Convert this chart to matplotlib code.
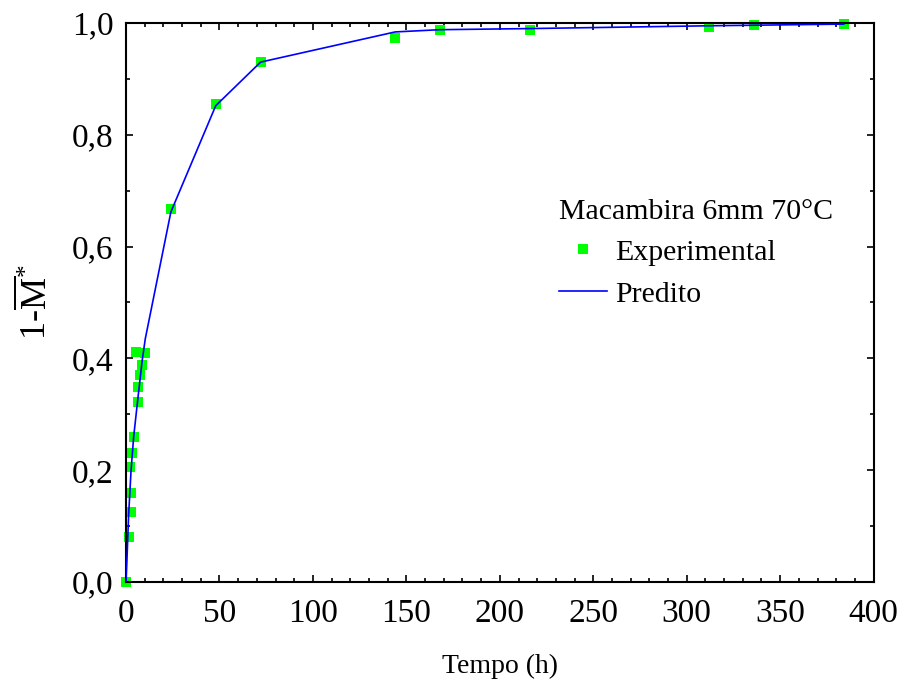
import matplotlib
matplotlib.use("Agg")
import matplotlib.pyplot as plt
from matplotlib.ticker import MultipleLocator, FuncFormatter

plt.rcParams['font.family'] = ['Liberation Serif', 'DejaVu Serif']
plt.rcParams['mathtext.fontset'] = 'custom'
plt.rcParams['mathtext.rm'] = 'Liberation Serif'
plt.rcParams['mathtext.it'] = 'Liberation Serif:italic'

# experimental points (time in h, 1 - M*)
t_exp = [0, 1.4, 2.3, 2.7, 2.8, 3.4, 4.4, 5.3, 6.6, 6.6, 7.3, 8.6, 10,
         24, 48, 72, 144, 168, 216, 312, 336, 384]
y_exp = [0.0, 0.08, 0.205, 0.126, 0.159, 0.23, 0.259, 0.412, 0.322, 0.348,
         0.37, 0.388, 0.409, 0.667, 0.855, 0.93, 0.974, 0.988, 0.988,
         0.993, 0.996, 0.998]

# predicted curve
t_pred = [0, 0.5, 1.4, 2.7, 4.1, 5.9, 8.6, 10.3, 24, 48, 72, 144, 168,
          216, 312, 336, 384]
y_pred = [0.0, 0.04, 0.12, 0.2, 0.26, 0.315, 0.395, 0.435, 0.662, 0.852,
          0.93, 0.984, 0.988, 0.99, 0.995, 0.996, 0.998]

fig = plt.figure(figsize=(9.04, 6.8), dpi=100)
ax = fig.add_axes([0.1394, 0.1441, 0.827, 0.8221])

ax.plot(t_exp, y_exp, 's', color='#00ff00', markersize=6.5, markeredgewidth=0,
        label='Experimental', clip_on=False, zorder=2)
ax.plot(t_pred, y_pred, '-', color='#0000ff', linewidth=1.2,
        label='Predito', zorder=3)

ax.set_xlim(0, 400)
ax.set_ylim(0, 1.0)
ax.xaxis.set_major_locator(MultipleLocator(50))
ax.xaxis.set_minor_locator(MultipleLocator(10))
ax.yaxis.set_major_locator(MultipleLocator(0.2))
ax.yaxis.set_minor_locator(MultipleLocator(0.1))
ax.yaxis.set_major_formatter(FuncFormatter(lambda v, p: f'{v:.1f}'.replace('.', ',')))

for s in ax.spines.values():
    s.set_linewidth(1.5)
ax.tick_params(which='both', direction='in', top=True, right=True, width=1.2)
ax.tick_params(which='major', length=5, labelsize=24)
ax.tick_params(axis='x', which='major', pad=12)
ax.tick_params(axis='y', which='major', pad=9)
ax.tick_params(which='minor', length=3)

ax.set_xlabel('Tempo (h)', fontsize=20, labelpad=18)
ax.set_ylabel(r'$\mathrm{1\text{-}\overline{M}^{*}}$', fontsize=26, labelpad=12)

leg = ax.legend(title='Macambira 6mm 70°C', loc='upper left',
                bbox_to_anchor=(0.579, 0.685), frameon=False, fontsize=21.5,
                title_fontsize=21.5, borderpad=0, borderaxespad=0,
                handlelength=1.6, handletextpad=0.3, labelspacing=0.5,
                alignment='left', markerscale=1.0)
leg._legend_box.sep = 10

fig.savefig('out.png', dpi=100)
